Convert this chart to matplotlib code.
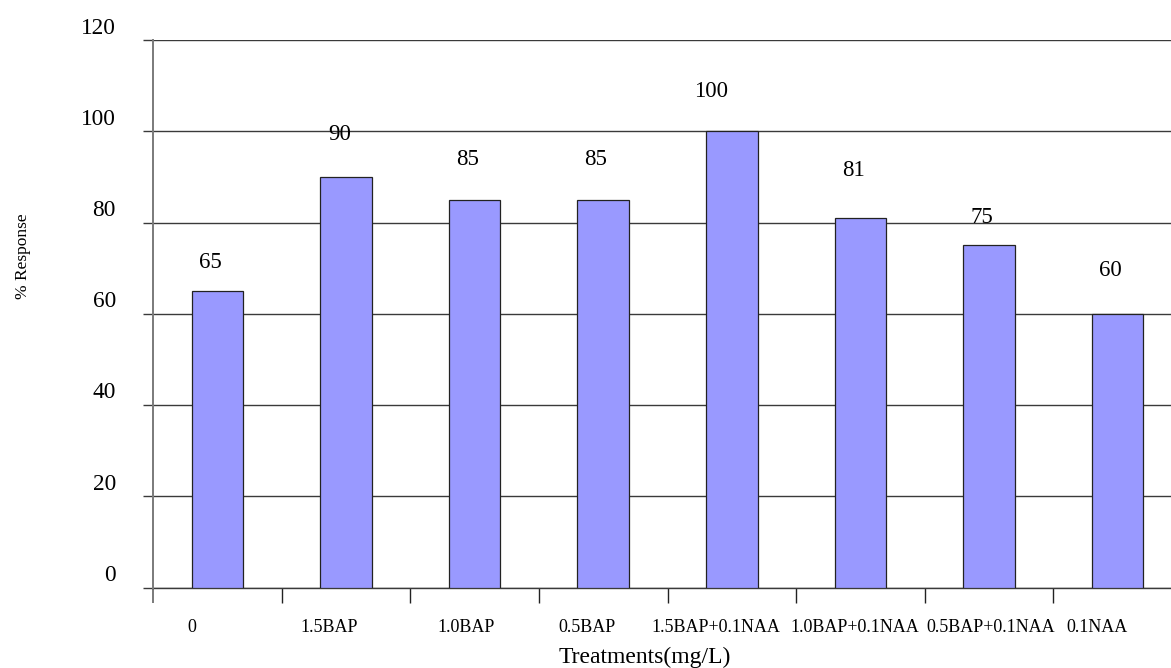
import matplotlib
matplotlib.use("Agg")
import matplotlib.pyplot as plt
from matplotlib.transforms import ScaledTranslation
import numpy as np

# Treatment categories and percentage response
treatments = ["0", "1.5BAP", "1.0BAP", "0.5BAP", "1.5BAP+0.1NAA",
              "1.0BAP+0.1NAA", "0.5BAP+0.1NAA", "0.1NAA"]
response = [65, 90, 85, 85, 100, 81, 75, 60]
y_ticks = [0, 20, 40, 60, 80, 100, 120]

# Hand placement of the value labels (pixel nudges: dx, height above bar top)
label_nudge = [(-7, 31), (-6, 44), (-7, 42), (-8, 42),
               (-21, 42), (-7, 50), (-7, 30), (-7, 45)]
# Horizontal nudges of the category labels (pixels)
xlabel_nudge = [-25, -17, -8, -16, -16, -6, 2, -21]

plt.rcParams["font.family"] = ["Liberation Serif", "DejaVu Serif"]

W, H, DPI = 1171, 668, 100
fig = plt.figure(figsize=(W / DPI, H / DPI), dpi=DPI)
ax = fig.add_axes([153 / W, (H - 587.5) / H, 1029 / W, 547.5 / H])

x = np.arange(len(treatments))
ax.bar(x, response, width=0.4, color="#9999FF", edgecolor="#222222",
       linewidth=0.9, zorder=3)

ax.set_xlim(-0.5, len(treatments) - 0.5)
ax.set_ylim(0, 120)

for s in ["top", "right", "bottom"]:
    ax.spines[s].set_visible(False)
ax.spines["left"].set_color("#7a7a7a")
ax.spines["left"].set_linewidth(1.4)
ax.spines["left"].set_zorder(4)

grid_color = "#3a3a3a"
ax.set_yticks(y_ticks)
ax.yaxis.grid(True, color=grid_color, linewidth=1.0, zorder=1)
ax.axhline(0, color=grid_color, linewidth=1.0, clip_on=False, zorder=2)
ax.tick_params(axis="y", length=7.2, width=1.0, color=grid_color,
               direction="out", pad=19.5, labelsize=16.8)
ax.set_axisbelow(True)
pt = fig.dpi_scale_trans
for lab in ax.get_yticklabels():
    lab.set_va("baseline")
    lab.set_transform(lab.get_transform() + ScaledTranslation(0, 6.5 / DPI, pt))

# Category labels at bar centres, boundary ticks below the zero line
ax.set_xticks(x)
ax.set_xticklabels(treatments)
ax.tick_params(axis="x", which="major", length=0, pad=0, labelsize=13)
for lab, dx in zip(ax.get_xticklabels(), xlabel_nudge):
    lab.set_va("baseline")
    lab.set_transform(lab.get_transform()
                      + ScaledTranslation(dx / DPI, -44.5 / DPI, pt))
ax.set_xticks(np.arange(-0.5, len(treatments)), minor=True)
ax.tick_params(axis="x", which="minor", length=10.8, width=1.0,
               color="#222222", direction="out")
first = ax.xaxis.get_minor_ticks()[0].tick1line
first.set_markeredgecolor("#7a7a7a")
first.set_markeredgewidth(1.4)

# Value labels above the bars
for xi, v, (dx, dy) in zip(x, response, label_nudge):
    ax.annotate(f"{v}", xy=(xi, v), xytext=(dx, dy - 7.6),
                textcoords="offset pixels", ha="center", va="baseline",
                fontsize=16.5, color="black", zorder=5)

fig.text(645 / W, (H - 663) / H, "Treatments(mg/L)", ha="center",
         va="baseline", fontsize=17)
fig.text(23 / W, (H - 256) / H, "% Response", ha="center", va="center",
         rotation=90, fontsize=12.5)

fig.savefig("out.png", dpi=DPI)
